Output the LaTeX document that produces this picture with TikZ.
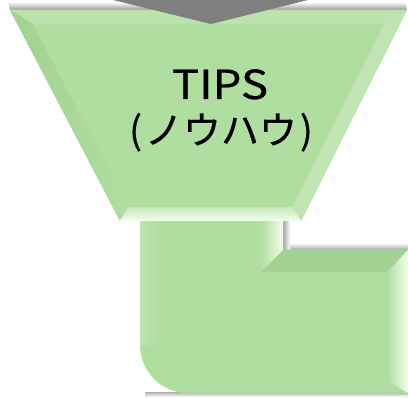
\documentclass[tikz,border=0pt]{standalone}
\usepackage{fontspec}
\setmainfont{Noto Sans CJK JP}
\newfontfamily\kanafont[FakeBold=0.6]{Noto Sans CJK JP}
\newfontfamily\tipsfont[FakeBold=0.6,FakeStretch=1.14]{Noto Sans CJK JP}
\begin{document}
\begin{tikzpicture}[x=1pt,y=-1pt,
  lbl/.style={text=black, inner sep=0pt, anchor=base}]
\definecolor{faceg}{HTML}{B0DDA0}
\definecolor{darkg}{HTML}{A2D191}
\definecolor{lightg}{HTML}{F2FFEC}
\definecolor{chev}{HTML}{7F7F7F}
\useasboundingbox (0,0) rectangle (408,398);
\clip (0,0) rectangle (408,398);
% ---- L-shaped pipe ----
\shade[top color=white, bottom color=gray!70] (283,243) rectangle (408,250);
\shade[left color=gray!70, right color=white] (283,215) rectangle (290,250);
\shade[top color=gray!50, bottom color=white] (145,393) rectangle (408,397);
\fill[faceg] (140,215) -- (283,215) -- (283,250) -- (410,250) -- (410,393)
   -- (188,393) arc[start angle=90, end angle=180, radius=48] -- cycle;
\shade[left color=faceg!80!white, right color=faceg] (140,215) rectangle (156,345);
\fill[darkg] (283,250) -- (408,250) -- (387,272) -- (261,272) -- cycle;
\shade[left color=faceg, right color=lightg] (261,215) -- (283,215) -- (283,250) -- (261,272) -- cycle;
\shade[left color=faceg, right color=lightg] (387,272) -- (408,250) -- (408,393) -- (387,380) -- cycle;
% ---- trapezoid ----
\shade[top color=white, bottom color=gray!80] (8,2) -- (405,2) -- (407,10) -- (10,10) -- cycle;
\fill[faceg] (10,10) -- (407,10) -- (301,221) -- (120,221) -- cycle;
\fill[faceg!85!white] (10,10) -- (407,10) -- (384,24) -- (33,24) -- cycle;
\shade[left color=darkg, right color=faceg] (10,10) -- (33,24) -- (128.5,207) -- (120,221) -- cycle;
\fill[faceg!80!white] (407,10) -- (301,221) -- (292,207) -- (384,24) -- cycle;
\shade[top color=faceg!70!white, bottom color=lightg] (128.5,207) -- (292,207) -- (301,221) -- (120,221) -- cycle;
\fill[faceg] (33,24) -- (384,24) -- (292,207) -- (128.5,207) -- cycle;
% ---- gray chevron ----
\fill[chev] (113,-5) -- (113,0) -- (211,24) -- (308,0) -- (308,-5) -- cycle;
% ---- text ----
\node[lbl, font=\tipsfont\fontsize{40}{44}\selectfont] (tips) at (220,99) {TIPS};
\node[lbl, font=\kanafont\fontsize{38}{42}\selectfont] (knowhow) at (221,144) {(\kern3pt ノウハウ\kern3pt)};
\end{tikzpicture}
\end{document}
